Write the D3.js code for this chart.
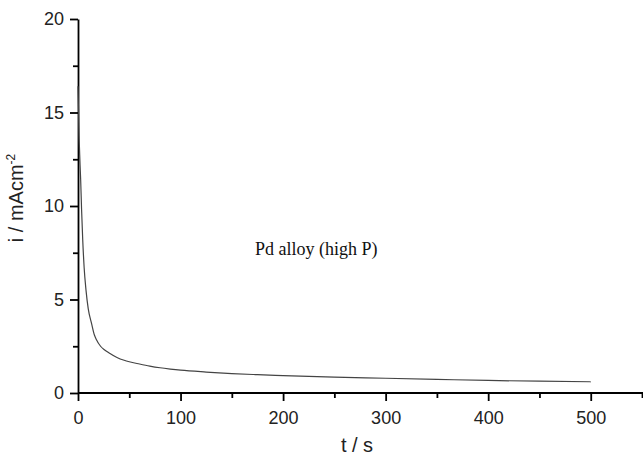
<!DOCTYPE html>
<html>
<head>
<meta charset="utf-8">
<script src="https://cdn.jsdelivr.net/npm/d3@7"></script>
<style>
  html, body { margin: 0; padding: 0; background: #fff; }
  svg { display: block; }
  .axis path, .axis line { stroke: #000; stroke-width: 1.8; }
  .axis text { font-family: "Liberation Sans", Arial, sans-serif; font-size: 18px; fill: #222; }
</style>
</head>
<body>
<script>
// ---- data ----
const timeS = [0, 0.5, 1, 1.5, 2, 2.6, 3.5, 4.6, 6, 7.8, 10, 13.3, 16, 18, 22, 26, 30, 38, 45, 50, 60, 70, 80, 90, 100, 125, 150, 175, 200, 250, 300, 350, 400, 450, 500];
const currentDensity = [16.4, 15.2, 13.8, 13.0, 12.2, 11.4, 9.8, 8.2, 6.7, 5.5, 4.5, 3.7, 3.1, 2.85, 2.5, 2.3, 2.15, 1.9, 1.75, 1.67, 1.55, 1.44, 1.35, 1.28, 1.22, 1.12, 1.04, 0.98, 0.93, 0.85, 0.79, 0.73, 0.67, 0.63, 0.6];
const xTicks = [0, 100, 200, 300, 400, 500];
const xMinorTicks = [50, 150, 250, 350, 450, 550];
const yTicks = [0, 5, 10, 15, 20];
const yMinorTicks = [2.5, 7.5, 12.5, 17.5];
const xTitle = "t / s";
const annotation = "Pd alloy (high P)";

const W = 643, H = 457;
const svg = d3.select("body").append("svg").attr("width", W).attr("height", H);

const x = d3.scaleLinear().domain([0, 550]).range([78, 642]);
const y = d3.scaleLinear().domain([0, 20]).range([393, 19]);

// minor ticks
svg.append("g").attr("class", "axis").attr("transform", `translate(0,${y(0)})`)
  .call(d3.axisBottom(x).tickValues(xMinorTicks).tickSize(5).tickFormat(""))
  .call(g => g.select(".domain").remove());
svg.append("g").attr("class", "axis").attr("transform", `translate(${x(0)},0)`)
  .call(d3.axisLeft(y).tickValues(yMinorTicks).tickSize(5).tickFormat(""))
  .call(g => g.select(".domain").remove());

// major axes
const gx = svg.append("g").attr("class", "axis").attr("transform", `translate(0,${y(0)})`)
  .call(d3.axisBottom(x).tickValues(xTicks).tickSize(8).tickSizeOuter(0).tickPadding(10));
gx.select(".domain").attr("d", `M${x(0)},0H${W}`);
const gy = svg.append("g").attr("class", "axis").attr("transform", `translate(${x(0)},0)`)
  .call(d3.axisLeft(y).tickValues(yTicks).tickSize(8).tickSizeOuter(0).tickPadding(6));

// curve
const pts = timeS.map((t, k) => [t, currentDensity[k]]);
svg.append("path")
  .datum(pts)
  .attr("fill", "none")
  .attr("stroke", "#444")
  .attr("stroke-width", 1.2)
  .attr("d", d3.line().x(d => x(d[0])).y(d => y(d[1])).curve(d3.curveMonotoneX));

// axis titles
svg.append("text")
  .attr("x", 357).attr("y", 452)
  .attr("text-anchor", "middle")
  .attr("font-family", "Liberation Sans, Arial, sans-serif")
  .attr("font-size", 20).attr("fill", "#222")
  .text(xTitle);

const yl = svg.append("text")
  .attr("transform", "translate(23,198) rotate(-90)")
  .attr("text-anchor", "middle")
  .attr("font-family", "Liberation Sans, Arial, sans-serif")
  .attr("font-size", 20).attr("fill", "#222");
yl.append("tspan").text("i / mAcm");
yl.append("tspan").attr("font-size", 12).attr("dy", -8).text("-2");

// annotation
svg.append("text")
  .attr("x", 255).attr("y", 255)
  .attr("font-family", "Liberation Serif, Times New Roman, serif")
  .attr("font-size", 18).attr("fill", "#111")
  .text(annotation);
</script>
</body>
</html>
